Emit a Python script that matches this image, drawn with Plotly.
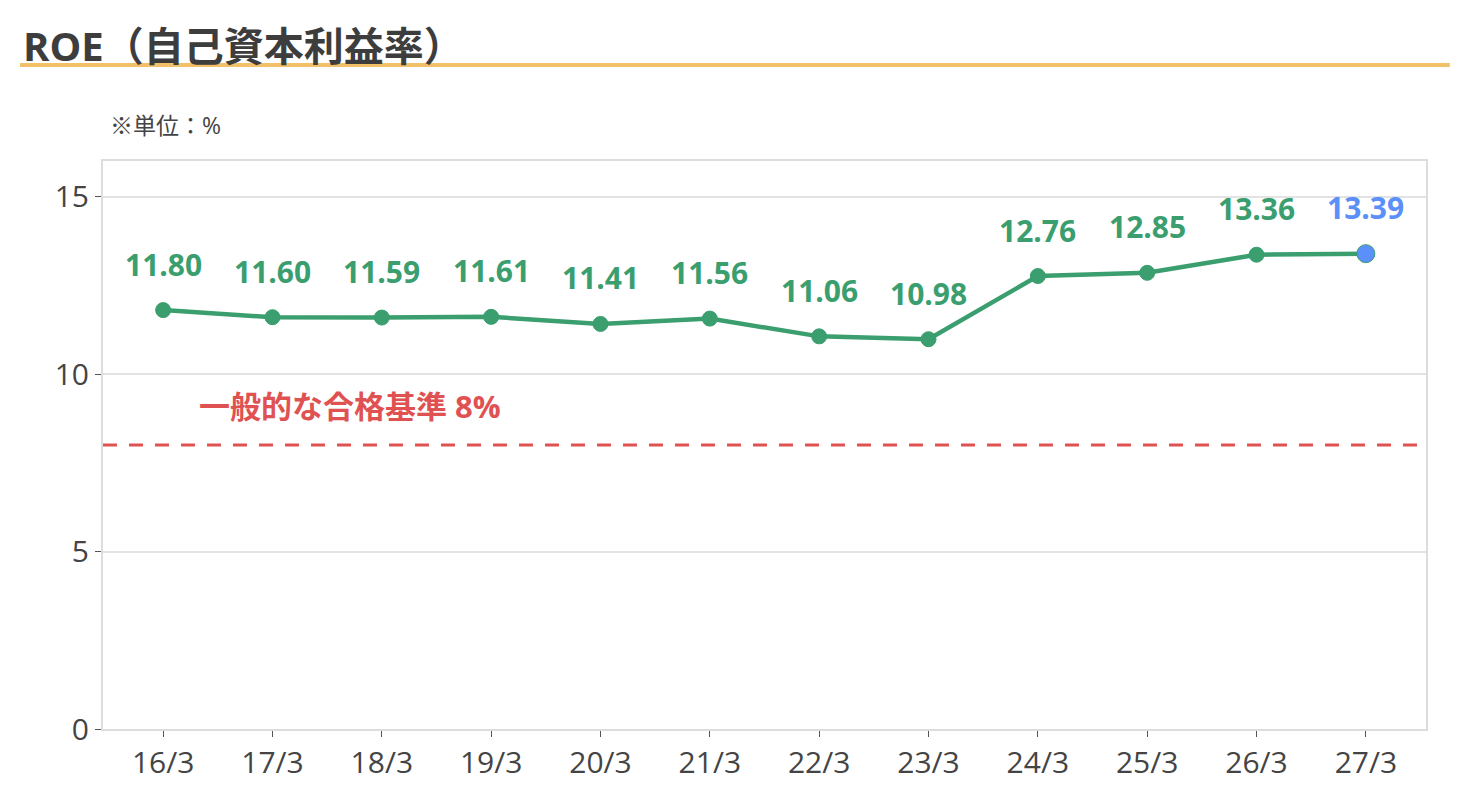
import plotly.graph_objects as go

periods = ["16/3", "17/3", "18/3", "19/3", "20/3", "21/3",
           "22/3", "23/3", "24/3", "25/3", "26/3", "27/3"]
roe = [11.80, 11.60, 11.59, 11.61, 11.41, 11.56,
       11.06, 10.98, 12.76, 12.85, 13.36, 13.39]
benchmark = 8
benchmark_label = "一般的な合格基準 8%"

green = "#3a9e6e"
blue = "#5b8ff9"
red = "#e05252"
font = "Open Sans, Noto Sans CJK JP"

# last point is a forecast, drawn in blue
colors = [green] * (len(roe) - 1) + [blue]

fig = go.Figure()
fig.add_trace(go.Scatter(
    x=periods, y=roe, mode="lines+markers",
    line=dict(color=green, width=4.5),
    marker=dict(color=colors, size=[15] * (len(roe) - 1) + [18], opacity=1),
    hoverinfo="x+y", showlegend=False,
))

# value labels above each point
for p, v, c in zip(periods, roe, colors):
    fig.add_annotation(x=p, y=v, text=f"{v:.2f}", showarrow=False,
                       yanchor="middle", yshift=46,
                       font=dict(family=font, size=30, color=c, weight="bold"))

fig.add_hline(y=benchmark, line=dict(color=red, width=3, dash="14px,12px"))
fig.add_annotation(x=0.31, y=benchmark + 1.1, xref="x", yref="y",
                   text=benchmark_label, showarrow=False,
                   xanchor="left", yanchor="middle",
                   font=dict(family=font, size=31, color=red, weight="bold"))

# page title with underline, and unit note
fig.add_annotation(xref="paper", yref="paper", x=-0.062, y=1.204,
                   xanchor="left", yanchor="middle", showarrow=False,
                   text="ROE（自己資本利益率）",
                   font=dict(family=font, size=40, color="#3d3d3d", weight="bold"))
fig.add_shape(type="line", xref="paper", yref="paper",
              x0=-0.0627, x1=1.018, y0=1.169, y1=1.169,
              line=dict(color="#f2c068", width=4))
fig.add_annotation(xref="paper", yref="paper", x=0.004, y=1.063,
                   xanchor="left", yanchor="middle", showarrow=False,
                   text="※単位：%",
                   font=dict(family=font, size=23, color="#444"))

fig.update_layout(
    width=1462, height=802,
    margin=dict(l=95, r=44, t=153, b=81),
    paper_bgcolor="white", plot_bgcolor="white",
    font=dict(family=font, color="#444"),
)
fig.update_xaxes(
    type="category", range=[-0.55, 11.55],
    showline=True, linecolor="#dddddd", linewidth=2, mirror=True,
    ticks="outside", tickcolor="#555", ticklen=6, tickwidth=1,
    tickfont=dict(size=30, color="#444"), showgrid=False,
)
fig.update_yaxes(
    range=[0, 16], tickvals=[0, 5, 10, 15],
    showline=True, linecolor="#dddddd", linewidth=2, mirror=True,
    gridcolor="#e3e3e3", gridwidth=1.5, zeroline=False,
    ticks="outside", tickcolor="#555", ticklen=6, tickwidth=1,
    tickfont=dict(size=30, color="#444"),
)

fig.write_html("out.html")
